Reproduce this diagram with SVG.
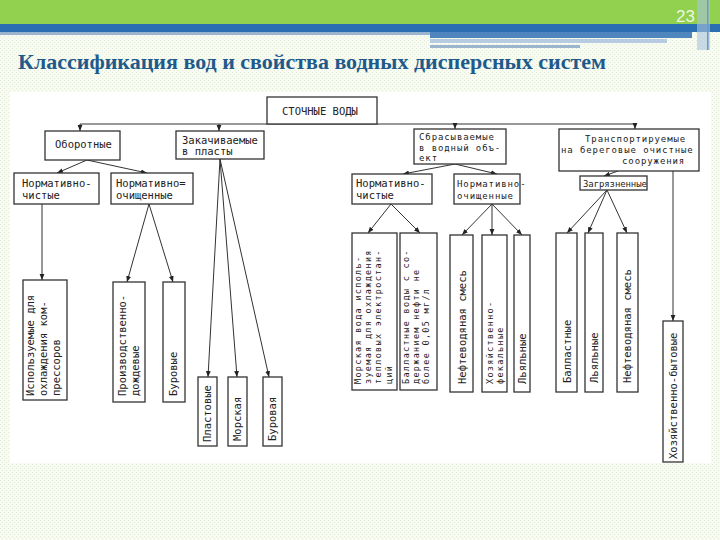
<svg xmlns="http://www.w3.org/2000/svg" width="720" height="540" viewBox="0 0 720 540">
<defs>
<pattern id="bgp" width="4" height="4" patternUnits="userSpaceOnUse">
<rect width="4" height="4" fill="#f8fbf3"/>
<rect x="0" y="0" width="1" height="1" fill="#e3edd4"/>
<rect x="2" y="2" width="1" height="1" fill="#e3edd4"/>
</pattern>
<marker id="ah" viewBox="0 0 10 10" refX="10" refY="5" markerWidth="6" markerHeight="6" orient="auto" markerUnits="userSpaceOnUse">
<path d="M0,1 L10,5 L0,9 z" fill="#222"/>
</marker>
<style>
.bx{fill:#fff;stroke:#333;stroke-width:1.3}
.t{font-family:"DejaVu Sans Mono","Liberation Mono",monospace;font-size:10.5px;fill:#222}
.s{font-family:"DejaVu Sans Mono","Liberation Mono",monospace;font-size:9px;letter-spacing:0.9px;fill:#222}
.r{font-family:"DejaVu Sans Mono","Liberation Mono",monospace;font-size:8.5px;letter-spacing:1.3px;fill:#222}
.c{fill:none;stroke:#333;stroke-width:1}
.c2{fill:none;stroke:#333;stroke-width:1;marker-end:url(#ah)}
</style>
</defs>
<rect width="720" height="540" fill="url(#bgp)"/>
<rect x="0" y="0" width="720" height="24" fill="#92d050"/>
<rect x="0" y="24" width="720" height="8" fill="#2b6eb2"/>
<rect x="0" y="32" width="430" height="3" fill="#9bb5ce"/>
<rect x="430" y="32" width="262" height="6" fill="#4f86bd"/>
<rect x="430" y="39" width="237" height="4" fill="#b7cce0"/>
<rect x="430" y="45" width="150" height="3" fill="#9bb5ce"/>
<rect x="697" y="0" width="13" height="50" fill="#a9c4de" opacity="0.6"/>
<rect x="707" y="0" width="1.5" height="50" fill="#6c98c4"/>
<text x="676" y="22" font-family="Liberation Sans, Arial, sans-serif" font-size="17" fill="#eef6e0">23</text>
<text x="18" y="69" font-family="Liberation Serif, Times New Roman, serif" font-weight="bold" font-size="22" fill="#1f5a8c" textLength="588" lengthAdjust="spacingAndGlyphs">Классификация вод и свойства водных дисперсных систем</text>
<rect x="10" y="92" width="701" height="371" fill="#fff"/>

<g id="connectors">
<line class="c" x1="80" y1="124" x2="636" y2="124"/>
<line class="c2" x1="80" y1="124" x2="80" y2="131"/>
<line class="c2" x1="219" y1="124" x2="219" y2="131"/>
<line class="c2" x1="455" y1="124" x2="455" y2="129"/>
<line class="c2" x1="635" y1="124" x2="635" y2="129"/>
<line class="c2" x1="87" y1="160" x2="57" y2="173"/>
<line class="c2" x1="87" y1="160" x2="147" y2="173"/>
<line class="c2" x1="42" y1="204" x2="42" y2="280"/>
<line class="c2" x1="149" y1="204" x2="127" y2="282"/>
<line class="c2" x1="149" y1="204" x2="173" y2="282"/>
<line class="c2" x1="220" y1="159" x2="208" y2="377"/>
<line class="c2" x1="220" y1="159" x2="237" y2="377"/>
<line class="c2" x1="220" y1="159" x2="269" y2="377"/>
<line class="c2" x1="455" y1="164" x2="403" y2="174"/>
<line class="c2" x1="455" y1="164" x2="497" y2="174"/>
<line class="c2" x1="391" y1="204" x2="368" y2="233"/>
<line class="c2" x1="391" y1="204" x2="420" y2="233"/>
<line class="c2" x1="492" y1="204" x2="462" y2="235"/>
<line class="c2" x1="492" y1="204" x2="492" y2="235"/>
<line class="c2" x1="492" y1="204" x2="522" y2="235"/>
<line class="c2" x1="618" y1="171" x2="604" y2="176"/>
<line class="c2" x1="607" y1="190" x2="567" y2="233"/>
<line class="c2" x1="607" y1="190" x2="588" y2="233"/>
<line class="c2" x1="607" y1="190" x2="627" y2="233"/>
<line class="c2" x1="673" y1="171" x2="673" y2="321"/>
</g>

<g id="root"><rect class="bx" x="267" y="97" width="110" height="27"/><text class="t" x="282" y="115">СТОЧНЫЕ ВОДЫ</text></g>

<g id="oborotnye"><rect class="bx" x="45" y="131" width="75" height="29"/><text class="t" x="55" y="148">Оборотные</text></g>
<g id="zakachivaemye"><rect class="bx" x="176" y="131" width="88" height="28"/><text class="t" x="182" y="144">Закачиваемые</text><text class="t" x="182" y="155">в пласты</text></g>
<g id="sbrasyvaemye"><rect class="bx" x="414" y="129" width="92" height="35"/><text class="s" x="419" y="140">Сбрасываемые</text><text class="s" x="419" y="150.5">в водный объ-</text><text class="s" x="419" y="161">ект</text></g>
<g id="transport"><rect class="bx" x="559" y="129" width="140" height="42"/><text class="s" x="585" y="142">Транспортируемые</text><text class="s" x="561" y="153">на береговые очистные</text><text class="s" x="622" y="164">сооружения</text></g>

<g id="norm-chist-1"><rect class="bx" x="14" y="173" width="85" height="31"/><text class="t" x="22" y="187">Нормативно-</text><text class="t" x="22" y="199">чистые</text></g>
<g id="norm-ochish-1"><rect class="bx" x="111" y="173" width="82" height="31"/><text class="t" x="116" y="187">Нормативно=</text><text class="t" x="116" y="199">очищенные</text></g>
<g id="norm-chist-2"><rect class="bx" x="352" y="174" width="80" height="30"/><text class="t" x="356" y="187">Нормативно-</text><text class="t" x="356" y="199">чистые</text></g>
<g id="norm-ochish-2"><rect class="bx" x="454" y="174" width="66" height="30"/><text class="s" x="457" y="187">Нормативно-</text><text class="s" x="457" y="199">очищенные</text></g>
<g id="zagryaznennye"><rect class="bx" x="580" y="176" width="67" height="14"/><text class="t" x="583" y="186.5" style="font-size:9px;letter-spacing:-0.1px">Загрязненные</text></g>

<g id="ispolzuemye"><rect class="bx" x="23" y="280" width="44" height="120"/><text class="t" transform="translate(34,396) rotate(-90)">Используемые для</text><text class="t" transform="translate(47,396) rotate(-90)">охлаждения ком-</text><text class="t" transform="translate(60,396) rotate(-90)">прессоров</text></g>
<g id="proizv"><rect class="bx" x="113" y="282" width="32" height="120"/><text class="t" transform="translate(126,396) rotate(-90)">Производственно-</text><text class="t" transform="translate(139,396) rotate(-90)">дождевые</text></g>
<g id="burovye"><rect class="bx" x="163" y="282" width="22" height="120"/><text class="t" transform="translate(177,396) rotate(-90)">Буровые</text></g>

<g id="plastovye"><rect class="bx" x="198" y="377" width="19" height="69"/><text class="t" transform="translate(211,442) rotate(-90)">Пластовые</text></g>
<g id="morskaya"><rect class="bx" x="228" y="377" width="19" height="69"/><text class="t" transform="translate(241,441) rotate(-90)">Морская</text></g>
<g id="burovaya"><rect class="bx" x="263" y="377" width="19" height="69"/><text class="t" transform="translate(276,441) rotate(-90)">Буровая</text></g>

<g id="morskaya-voda"><rect class="bx" x="352" y="233" width="45" height="157"/><text class="r" transform="translate(361,384) rotate(-90)">Морская вода исполь-</text><text class="r" transform="translate(371,384) rotate(-90)">зуемая для охлаждения</text><text class="r" transform="translate(381,384) rotate(-90)">тепловых электростан-</text><text class="r" transform="translate(392,384) rotate(-90)">ций</text></g>
<g id="ballast-voda"><rect class="bx" x="400" y="233" width="37" height="157"/><text class="r" transform="translate(409,384) rotate(-90)">Балластные воды с со-</text><text class="r" transform="translate(419,384) rotate(-90)">держанием нефти не</text><text class="r" transform="translate(429,384) rotate(-90)">более 0,05 мг/л</text></g>
<g id="neftevod-1"><rect class="bx" x="450" y="235" width="23" height="157"/><text class="t" transform="translate(466,384) rotate(-90)">Нефтеводяная смесь</text></g>
<g id="hoz-fek"><rect class="bx" x="482" y="235" width="25" height="157"/><text class="r" transform="translate(493,384) rotate(-90)">Хозяйственно-</text><text class="r" transform="translate(503,384) rotate(-90)">фекальные</text></g>
<g id="lyalnye-1"><rect class="bx" x="514" y="235" width="16" height="157"/><text class="t" transform="translate(526,384) rotate(-90)">Льяльные</text></g>

<g id="ballastnye"><rect class="bx" x="556" y="233" width="21" height="159"/><text class="t" transform="translate(571,383) rotate(-90)">Балластные</text></g>
<g id="lyalnye-2"><rect class="bx" x="585" y="233" width="18" height="159"/><text class="t" transform="translate(598,383) rotate(-90)">Льяльные</text></g>
<g id="neftevod-2"><rect class="bx" x="617" y="233" width="21" height="159"/><text class="t" transform="translate(631,383) rotate(-90)">Нефтеводяная смесь</text></g>
<g id="hoz-byt"><rect class="bx" x="663" y="321" width="20" height="141"/><text class="t" transform="translate(677,459) rotate(-90)">Хозяйственно-бытовые</text></g>
</svg>
